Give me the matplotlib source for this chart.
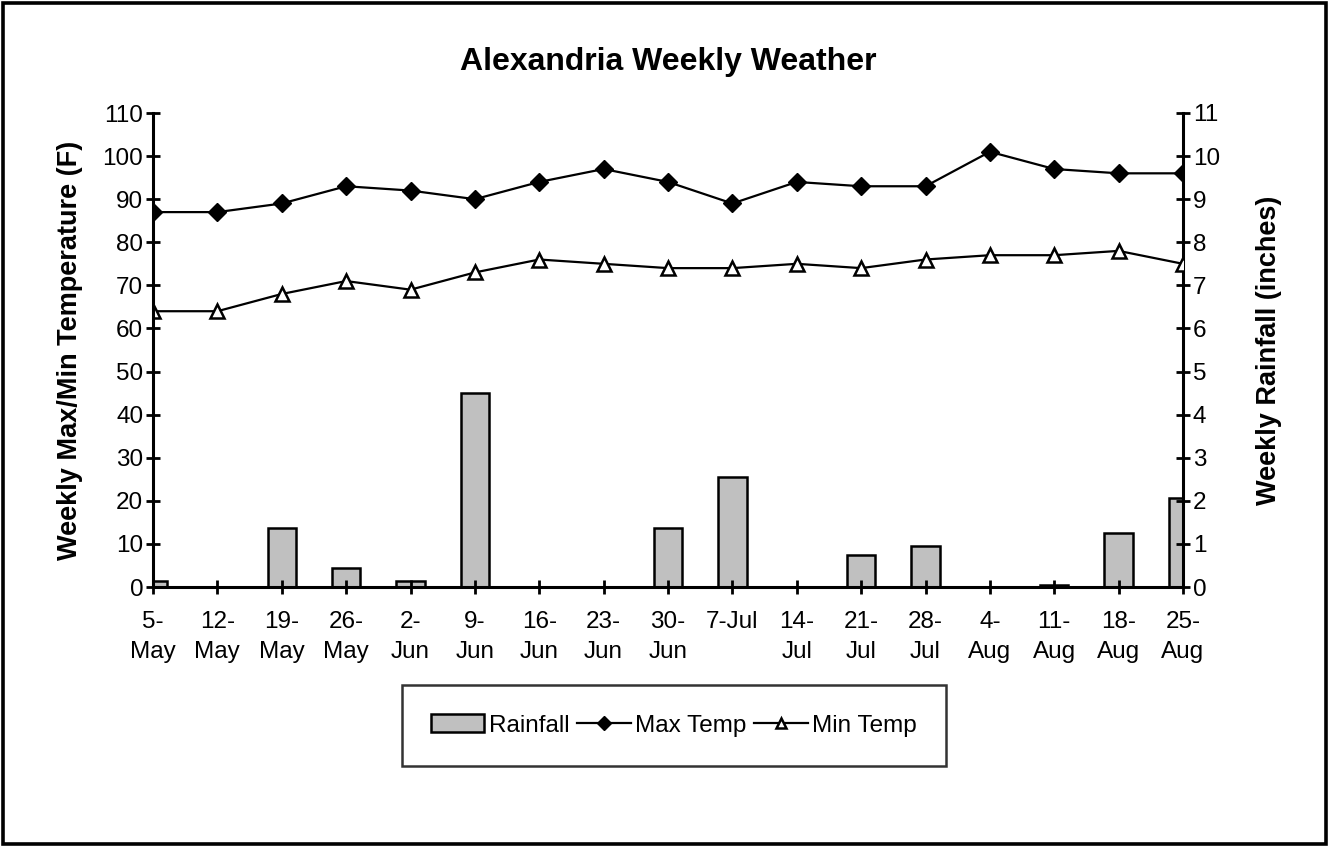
import matplotlib
matplotlib.use("Agg")
import matplotlib.pyplot as plt
from matplotlib.patches import Rectangle

plt.rcParams['font.family'] = ['Liberation Sans', 'DejaVu Sans']

weeks = ["5-\nMay", "12-\nMay", "19-\nMay", "26-\nMay", "2-\nJun", "9-\nJun", "16-\nJun",
         "23-\nJun", "30-\nJun", "7-Jul", "14-\nJul", "21-\nJul", "28-\nJul", "4-\nAug",
         "11-\nAug", "18-\nAug", "25-\nAug"]
max_temp = [87, 87, 89, 93, 92, 90, 94, 97, 94, 89, 94, 93, 93, 101, 97, 96, 96]
min_temp = [64, 64, 68, 71, 69, 73, 76, 75, 74, 74, 75, 74, 76, 77, 77, 78, 75]
rainfall = [0.13, 0.0, 1.38, 0.45, 0.13, 4.5, 0.0, 0.0, 1.38, 2.56, 0.0, 0.75, 0.94, 0.0, 0.05, 1.26, 2.06]
temp_ticks = list(range(0, 111, 10))
rain_ticks = list(range(0, 12))

W, H = 1329, 846
fig = plt.figure(figsize=(W / 100, H / 100), dpi=100)
fig.patch.set_facecolor('white')

# outer border
fig.add_artist(Rectangle((2.5 / W, 2.5 / H), 1 - 5.5 / W, 1 - 5.5 / H, transform=fig.transFigure,
                         fill=False, edgecolor='black', linewidth=2.6))

ax = fig.add_axes([153 / W, 1 - 587 / H, (1183 - 153) / W, (587 - 113) / H])
ax2 = ax.twinx()
ax.set_zorder(ax2.get_zorder() + 1)
ax.patch.set_visible(False)

TICK_FS = 17.5
LABEL_FS = 19.5

x = list(range(len(weeks)))
bars = ax2.bar(x, rainfall, width=0.44, color='#c0c0c0', edgecolor='black', linewidth=1.8,
               label='Rainfall')
l1, = ax.plot(x, max_temp, color='black', linewidth=1.6, marker='D', markersize=9,
              markerfacecolor='black', markeredgecolor='black', label='Max Temp')
l2, = ax.plot(x, min_temp, color='black', linewidth=1.6, marker='^', markersize=10,
              markerfacecolor='white', markeredgecolor='black', markeredgewidth=1.8,
              label='Min Temp')

ax.set_xlim(0, len(weeks) - 1)
ax.set_ylim(0, 110)
ax2.set_ylim(0, 11)
ax.set_yticks(temp_ticks)
ax2.set_yticks(rain_ticks)
ax.set_xticks(x)
ax.set_xticklabels(weeks, fontsize=TICK_FS, linespacing=1.5)

for a in (ax, ax2):
    for s in a.spines.values():
        s.set_linewidth(2.2)
    a.spines['top'].set_visible(False)
ax.spines['right'].set_visible(False)
ax2.spines['left'].set_visible(False)
ax2.spines['bottom'].set_visible(False)

ax.tick_params(axis='y', direction='inout', length=10, width=2.0, labelsize=TICK_FS, pad=2)
ax.tick_params(axis='x', direction='inout', length=10, width=2.0, labelsize=TICK_FS, pad=12)
ax2.tick_params(axis='y', direction='inout', length=10, width=2.0, labelsize=TICK_FS, pad=2)

ax.set_ylabel('Weekly Max/Min Temperature (F)', fontsize=LABEL_FS, fontweight='bold', labelpad=14)
ax2.set_ylabel('Weekly Rainfall (inches)', fontsize=LABEL_FS, fontweight='bold', labelpad=26)

fig.text(0.5025, 1 - 62 / H, 'Alexandria Weekly Weather', ha='center', va='center',
         fontsize=23, fontweight='bold')

leg = fig.legend([bars, l1, l2], ['Rainfall', 'Max Temp', 'Min Temp'], loc='center',
                 bbox_to_anchor=(674 / W, 1 - 725.5 / H), ncol=3, fontsize=TICK_FS,
                 frameon=True, fancybox=False, edgecolor='black', borderpad=1.2,
                 columnspacing=0.3, handletextpad=0.2, handlelength=2.2,
                 borderaxespad=0)
leg.get_frame().set_linewidth(1.8)
for h in leg.legend_handles[1:]:
    h.set_markersize(7)

fig.savefig('out.png', dpi=100, facecolor='white')
